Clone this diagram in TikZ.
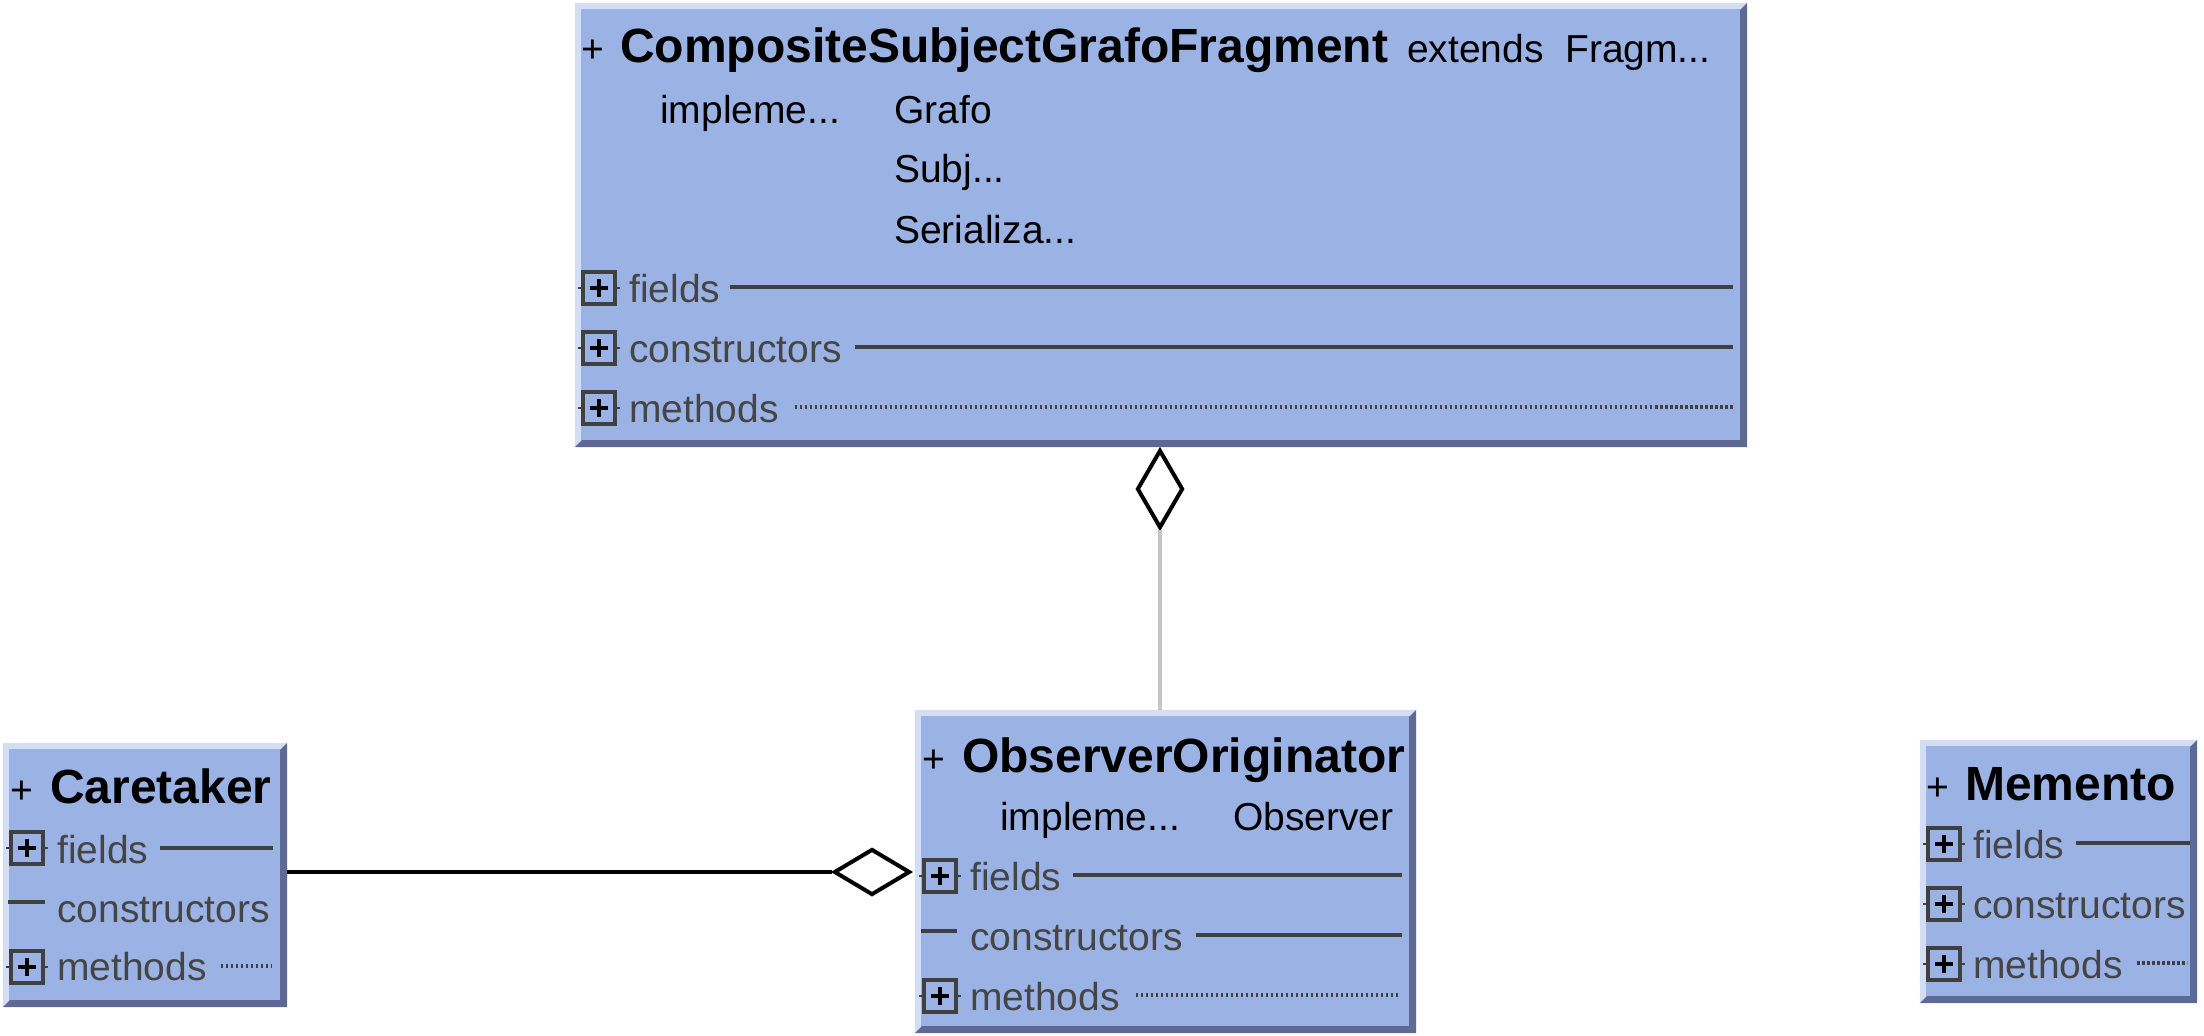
\documentclass[tikz,border=0pt]{standalone}
\usepackage{fontspec}
\setmainfont{Liberation Sans}
\usetikzlibrary{shapes.geometric}
\definecolor{boxfill}{HTML}{9BB3E4}
\definecolor{bevlight}{HTML}{D3DEF5}
\definecolor{bevdark}{HTML}{5E6A94}
\definecolor{secgray}{HTML}{454545}
\definecolor{linegray}{HTML}{404040}
\definecolor{conngray}{HTML}{C4C4C4}
\newcommand\boxbevel[1]{%
  \fill[bevlight] (#1.north west) -- (#1.north east) -- ([shift={(-6pt,-6pt)}]#1.north east) -- ([shift={(6pt,-6pt)}]#1.north west) -- ([shift={(6pt,6pt)}]#1.south west) -- (#1.south west) -- cycle;
  \fill[bevdark] (#1.south west) -- (#1.south east) -- (#1.north east) -- ([shift={(-7pt,-7pt)}]#1.north east) -- ([shift={(-7pt,7pt)}]#1.south east) -- ([shift={(7pt,7pt)}]#1.south west) -- cycle;
}
\tikzset{
  classbox/.style={rectangle, fill=boxfill, inner sep=0pt},
  ttl/.style={font=\fontsize{48}{56}\selectfont\bfseries, anchor=base west, inner sep=0pt},
  txt/.style={font=\fontsize{39}{46}\selectfont, anchor=base west, inner sep=0pt},
  sec/.style={txt, text=secgray},
  sepline/.style={draw=linegray, line width=3.5pt},
  dotline/.style={draw=linegray, line width=4pt, dash pattern=on 2.5pt off 2.5pt},
  aggr/.style={diamond, draw=black, fill=white, line width=4pt, inner sep=0pt},
  expand/.pic={
    \draw[linegray, line width=2pt] (-21,0) -- (21,0);
    \draw[linegray, fill=boxfill, line width=4pt] (-16,-16) rectangle (16,16);
    \draw[black, line width=4pt] (-9,0) -- (9,0) (0,-9) -- (0,9);
  },
}
\begin{document}
\begin{tikzpicture}[x=1pt, y=-1pt]
\useasboundingbox (0,0) rectangle (2204,1036);
% boxes
\node[classbox, minimum width=1172pt, minimum height=444pt] (top) at (1161,225) {};
\node[classbox, minimum width=284pt, minimum height=264pt] (care) at (145,875) {};
\node[classbox, minimum width=501pt, minimum height=323pt] (oo) at (1165.5,871.5) {};
\node[classbox, minimum width=277pt, minimum height=263pt] (mem) at (2058.5,871.5) {};
\boxbevel{top}
\boxbevel{care}
\boxbevel{oo}
\boxbevel{mem}

% ---- CompositeSubjectGrafoFragment
\node[txt] (ta) at (581,62) {+};
\node[ttl] (tb) at (620,62) {CompositeSubjectGrafoFragment};
\node[txt] (tc) at (1407,62) {extends};
\node[txt] (td) at (1565,62) {Fragm...};
\node[txt] (te) at (660,123) {impleme...};
\node[txt] (tf) at (894,123) {Grafo};
\node[txt] (tg) at (894,182) {Subj...};
\node[txt] (th) at (894,243) {Serializa...};
\pic at (599,288) {expand};
\pic at (599,348) {expand};
\pic at (599,408) {expand};
\node[sec] (tfl) at (629,302) {fields};
\node[sec] (tco) at (629,362) {constructors};
\node[sec] (tme) at (629,422) {methods};
\draw[sepline] ([xshift=10pt,yshift=15pt]tfl.base east) -- ([yshift=15pt]tfl.base east -| 1733,0);
\draw[sepline] ([xshift=13pt,yshift=15pt]tco.base east) -- ([yshift=15pt]tco.base east -| 1733,0);
\draw[dotline] ([xshift=16pt,yshift=15pt]tme.base east) -- ([yshift=15pt]tme.base east -| 1733,0);

% ---- ObserverOriginator
\node[txt] (oa) at (922,772) {+};
\node[ttl] (ob) at (962,772) {ObserverOriginator};
\node[txt] (oc) at (1000,830) {impleme...};
\node[txt] (od) at (1233,830) {Observer};
\pic at (940,876) {expand};
\draw[linegray, line width=3.5pt] (921,931) -- (957,931);
\pic at (940,996) {expand};
\node[sec] (ofl) at (970,890) {fields};
\node[sec] (oco) at (970,950) {constructors};
\node[sec] (ome) at (970,1010) {methods};
\draw[sepline] ([xshift=12pt,yshift=15pt]ofl.base east) -- ([yshift=15pt]ofl.base east -| 1402,0);
\draw[sepline] ([xshift=13pt,yshift=15pt]oco.base east) -- ([yshift=15pt]oco.base east -| 1402,0);
\draw[dotline] ([xshift=16pt,yshift=15pt]ome.base east) -- ([yshift=15pt]ome.base east -| 1400,0);

% ---- Caretaker
\node[txt] (ca) at (10,803) {+};
\node[ttl] (cb) at (50,803) {Caretaker};
\pic at (27,848) {expand};
\draw[linegray, line width=3.5pt] (8,902) -- (45,902);
\pic at (27,967) {expand};
\node[sec] (cfl) at (57,863) {fields};
\node[sec] (cco) at (57,922) {constructors};
\node[sec] (cme) at (57,980) {methods};
\draw[sepline] ([xshift=12pt,yshift=15pt]cfl.base east) -- ([yshift=15pt]cfl.base east -| 273,0);
\draw[dotline] ([xshift=14pt,yshift=14pt]cme.base east) -- ([yshift=14pt]cme.base east -| 272,0);

% ---- Memento
\node[txt] (ma) at (1926,800) {+};
\node[ttl] (mb) at (1965,800) {Memento};
\pic at (1944,844) {expand};
\pic at (1944,904) {expand};
\pic at (1944,964) {expand};
\node[sec] (mfl) at (1973,858) {fields};
\node[sec] (mco) at (1973,918) {constructors};
\node[sec] (mme) at (1973,978) {methods};
\draw[sepline] ([xshift=12pt,yshift=15pt]mfl.base east) -- ([yshift=15pt]mfl.base east -| 2190,0);
\draw[dotline] ([xshift=14pt,yshift=15pt]mme.base east) -- ([yshift=15pt]mme.base east -| 2187,0);

% ---- connectors
\node[aggr, minimum width=46pt, minimum height=78pt] (d1) at (1160,489) {};
\node[aggr, minimum width=76pt, minimum height=46pt] (d2) at (872,872) {};
\draw[conngray, line width=4pt] (d1.south) -- (d1.south |- oo.north);
\draw[black, line width=4pt] (care.east |- d2.west) -- (d2.west);
\end{tikzpicture}
\end{document}
